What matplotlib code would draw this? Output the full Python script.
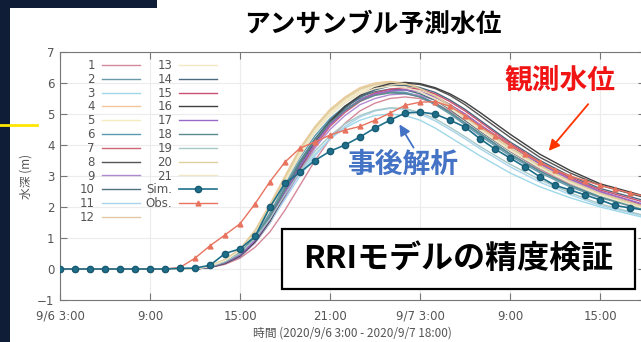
import matplotlib
matplotlib.use("Agg")
import matplotlib.pyplot as plt
from matplotlib.lines import Line2D
from matplotlib.patches import Rectangle

JP = ['Noto Sans CJK JP', 'DejaVu Sans']

# hours after 2020/9/6 3:00
hours = list(range(40))
tick_hours = [0, 6, 12, 18, 24, 30, 36]
tick_labels = ['9/6 3:00', '9:00', '15:00', '21:00', '9/7 3:00', '9:00', '15:00']

# post-event simulation (Sim.) and observed water level (Obs.), hourly
sim_level = [0, 0, 0, 0, 0, 0, 0, 0, 0.02, 0.03, 0.12, 0.5, 0.65, 1.05, 2.0, 2.77,
             3.12, 3.5, 3.8, 4.0, 4.26, 4.55, 4.8, 5.03, 5.06, 5.0, 4.8, 4.58, 4.2, 3.87,
             3.58, 3.29, 2.97, 2.7, 2.55, 2.39, 2.23, 2.05, 1.97, 1.9]
obs_level = [0, 0, 0, 0, 0, 0, 0, 0, 0.05, 0.35, 0.75, 1.1, 1.46, 2.1, 2.82, 3.45,
             3.9, 4.1, 4.32, 4.48, 4.6, 4.8, 5.03, 5.28, 5.38, 5.4, 5.25, 4.95, 4.6, 4.3,
             4.0, 3.7, 3.45, 3.2, 3.0, 2.85, 2.7, 2.58, 2.45, 2.35]

# ensemble members 1..21
ens_hours = [0, 9, 10, 11, 12, 13, 14, 15, 16, 17, 18, 19, 20, 21, 22, 23, 24, 25, 26, 27,
             28, 30, 32, 34, 36, 39]
ens_levels = [
    [0, 0, 0.05, 0.15, 0.35, 0.7, 1.2, 1.9, 2.7, 3.5, 4.2, 4.7, 5.1, 5.35, 5.5, 5.55, 5.5, 5.35, 5.1, 4.8, 4.45, 3.8, 3.2, 2.75, 2.4, 1.95],
    [0, 0, 0.08, 0.25, 0.55, 1.05, 1.8, 2.7, 3.5, 4.2, 4.75, 5.15, 5.45, 5.62, 5.7, 5.68, 5.55, 5.3, 5.0, 4.65, 4.3, 3.65, 3.1, 2.65, 2.3, 1.9],
    [0, 0, 0.08, 0.25, 0.5, 0.95, 1.6, 2.35, 3.1, 3.7, 4.2, 4.55, 4.8, 4.95, 5.0, 4.95, 4.8, 4.55, 4.25, 3.95, 3.65, 3.1, 2.65, 2.3, 2.0, 1.65],
    [0, 0, 0.1, 0.3, 0.65, 1.25, 2.1, 3.0, 3.9, 4.6, 5.15, 5.55, 5.85, 6.0, 6.05, 6.0, 5.85, 5.6, 5.3, 4.95, 4.6, 3.95, 3.35, 2.85, 2.45, 2.0],
    [0, 0, 0.1, 0.3, 0.6, 1.2, 2.0, 2.9, 3.75, 4.5, 5.05, 5.45, 5.75, 5.92, 5.98, 5.92, 5.75, 5.5, 5.2, 4.85, 4.5, 3.85, 3.3, 2.8, 2.4, 1.95],
    [0, 0, 0.08, 0.25, 0.55, 1.1, 1.85, 2.75, 3.6, 4.3, 4.85, 5.25, 5.5, 5.65, 5.72, 5.7, 5.58, 5.35, 5.05, 4.7, 4.35, 3.7, 3.15, 2.7, 2.35, 1.95],
    [0, 0, 0.06, 0.2, 0.45, 0.9, 1.55, 2.35, 3.2, 3.95, 4.6, 5.05, 5.4, 5.62, 5.75, 5.78, 5.72, 5.55, 5.3, 5.0, 4.65, 4.0, 3.4, 2.9, 2.5, 2.05],
    [0, 0, 0.05, 0.18, 0.4, 0.85, 1.5, 2.35, 3.25, 4.05, 4.7, 5.2, 5.55, 5.8, 5.95, 6.0, 5.95, 5.82, 5.6, 5.3, 4.95, 4.25, 3.6, 3.1, 2.7, 2.3],
    [0, 0, 0.05, 0.18, 0.4, 0.85, 1.5, 2.3, 3.15, 3.9, 4.5, 4.95, 5.3, 5.5, 5.62, 5.65, 5.6, 5.45, 5.2, 4.9, 4.55, 3.9, 3.3, 2.85, 2.45, 2.0],
    [0, 0, 0.07, 0.22, 0.5, 1.0, 1.7, 2.6, 3.45, 4.2, 4.8, 5.25, 5.55, 5.72, 5.8, 5.78, 5.65, 5.45, 5.15, 4.8, 4.45, 3.8, 3.25, 2.8, 2.4, 2.0],
    [0, 0, 0.07, 0.2, 0.45, 0.9, 1.5, 2.25, 3.0, 3.65, 4.2, 4.6, 4.9, 5.1, 5.18, 5.15, 5.0, 4.78, 4.5, 4.2, 3.88, 3.3, 2.8, 2.4, 2.05, 1.7],
    [0, 0, 0.1, 0.3, 0.62, 1.2, 2.0, 2.95, 3.85, 4.55, 5.1, 5.5, 5.8, 5.95, 6.0, 5.95, 5.8, 5.55, 5.25, 4.9, 4.55, 3.9, 3.3, 2.82, 2.42, 1.98],
    [0, 0, 0.1, 0.28, 0.6, 1.15, 1.95, 2.85, 3.7, 4.45, 5.0, 5.4, 5.7, 5.88, 5.95, 5.9, 5.75, 5.5, 5.2, 4.85, 4.5, 3.85, 3.28, 2.8, 2.4, 1.95],
    [0, 0, 0.06, 0.2, 0.45, 0.95, 1.65, 2.5, 3.4, 4.15, 4.75, 5.2, 5.55, 5.78, 5.9, 5.92, 5.85, 5.7, 5.45, 5.15, 4.8, 4.1, 3.5, 3.0, 2.6, 2.2],
    [0, 0, 0.06, 0.2, 0.45, 0.95, 1.6, 2.45, 3.3, 4.05, 4.65, 5.1, 5.45, 5.68, 5.8, 5.85, 5.8, 5.65, 5.4, 5.1, 4.75, 4.05, 3.45, 2.95, 2.55, 2.15],
    [0, 0, 0.05, 0.18, 0.42, 0.88, 1.55, 2.4, 3.3, 4.1, 4.75, 5.25, 5.6, 5.85, 5.98, 6.02, 5.98, 5.85, 5.65, 5.38, 5.05, 4.35, 3.7, 3.18, 2.75, 2.35],
    [0, 0, 0.06, 0.2, 0.45, 0.92, 1.6, 2.45, 3.3, 4.05, 4.65, 5.1, 5.45, 5.65, 5.75, 5.78, 5.72, 5.55, 5.3, 5.0, 4.65, 3.98, 3.38, 2.9, 2.5, 2.08],
    [0, 0, 0.07, 0.22, 0.5, 1.0, 1.72, 2.6, 3.45, 4.15, 4.72, 5.12, 5.42, 5.6, 5.68, 5.66, 5.55, 5.35, 5.05, 4.72, 4.38, 3.72, 3.16, 2.7, 2.32, 1.92],
    [0, 0, 0.08, 0.24, 0.5, 0.98, 1.62, 2.4, 3.15, 3.8, 4.3, 4.68, 4.95, 5.12, 5.2, 5.18, 5.05, 4.85, 4.57, 4.27, 3.95, 3.38, 2.88, 2.46, 2.1, 1.72],
    [0, 0, 0.1, 0.3, 0.63, 1.22, 2.05, 2.95, 3.85, 4.58, 5.12, 5.52, 5.82, 5.98, 6.03, 5.98, 5.82, 5.58, 5.28, 4.93, 4.58, 3.92, 3.33, 2.84, 2.44, 2.0],
    [0, 0, 0.09, 0.27, 0.58, 1.12, 1.9, 2.8, 3.65, 4.4, 4.95, 5.35, 5.65, 5.82, 5.9, 5.86, 5.72, 5.48, 5.18, 4.84, 4.48, 3.82, 3.26, 2.78, 2.38, 1.94],
]
ens_colors = ['#d4889a', '#6a9aaa', '#9fd8e8', '#f2c89a', '#f3eabd', '#5a9ab0', '#cc6677',
              '#555555', '#b08ad0', '#507080', '#a8d4ec', '#e4c8a4', '#f2e8c4', '#4a6a80',
              '#c85070', '#404040', '#9a6ac8', '#5a8a90', '#a8c8c8', '#e0d0a0', '#f0e6c8']
sim_color = '#1f6f8b'
obs_color = '#e8735f'

fig = plt.figure(figsize=(6.41, 3.42), dpi=100)
fig.patch.set_facecolor('white')

# slide decoration: navy strip + top bar, yellow marker line
fig.add_artist(Rectangle((0, 0), 10 / 641, 1, transform=fig.transFigure,
                         facecolor='#0f1d36', edgecolor='none', zorder=0))
fig.add_artist(Rectangle((0, 1 - 8 / 342), 157 / 641, 8 / 342, transform=fig.transFigure,
                         facecolor='#0f1d36', edgecolor='none', zorder=0))
fig.add_artist(Line2D([0, 37 / 641], [1 - 125 / 342] * 2, transform=fig.transFigure,
                      color='#ffe600', lw=2, zorder=5))

ax = fig.add_axes([60 / 641, 42 / 342, 585 / 641, 248 / 342])

for i, lev in enumerate(ens_levels):
    ax.plot(ens_hours, lev, color=ens_colors[i], lw=1.0, label=str(i + 1), zorder=2)
ax.plot(hours, obs_level, color=obs_color, lw=1.0, marker='^', ms=3.5,
        label='Obs.', zorder=3)
ax.plot(hours, sim_level, color=sim_color, lw=1.2, marker='o', ms=4.5,
        markeredgecolor='#175a72', label='Sim.', zorder=4)

ax.set_xlim(0, 39)
ax.set_ylim(-1, 7)
ax.set_xticks(tick_hours)
ax.set_xticklabels(tick_labels)
ax.set_yticks(range(-1, 8))
ax.tick_params(direction='in', length=5, top=True, right=True, colors='#777777',
               labelcolor='#555555', labelsize=8.5, pad=4)
ax.tick_params(axis='x', pad=7)
ax.grid(True, color='#ececec', lw=0.8)
for s in ax.spines.values():
    s.set_color('#777777')

ax.set_ylabel('水深 (m)', family=JP, fontsize=8.5, color='#555555', labelpad=3)
ax.set_xlabel('時間 (2020/9/6 3:00 - 2020/9/7 18:00)', family=JP, fontsize=8.5,
              color='#555555', labelpad=3)

# legend: members 1-21, then Sim., Obs.
handles, labels = ax.get_legend_handles_labels()
order = list(range(21)) + [22, 21]
leg = ax.legend([handles[k] for k in order], [labels[k] for k in order], ncol=2,
                loc='upper left', bbox_to_anchor=(20 / 585, 1 - 7 / 248), frameon=False,
                markerfirst=False, fontsize=8.5, handlelength=3.2, handletextpad=0.6,
                columnspacing=0.5, labelspacing=0.07, borderpad=0, borderaxespad=0)
for t in leg.get_texts():
    t.set_color('#555555')

# title and annotations
fig.text(373 / 641, 1 - 24 / 342, 'アンサンブル予測水位', family=JP, fontsize=18.5,
         fontweight='bold', ha='center', va='center')
fig.text(560 / 641, 1 - 80 / 342, '観測水位', family=JP, fontsize=20,
         fontweight='bold', color='#f01414', ha='center', va='center')
fig.text(403 / 641, 1 - 165 / 342, '事後解析', family=JP, fontsize=20,
         fontweight='bold', color='#4472c4', ha='center', va='center')
ax.annotate('', xy=(547 / 641, 1 - 153 / 342), xytext=(590 / 641, 1 - 102 / 342),
            xycoords='figure fraction', textcoords='figure fraction',
            arrowprops=dict(arrowstyle='-|>', color='#ff3300', lw=1.3,
                            mutation_scale=16), zorder=6)
ax.annotate('', xy=(398 / 641, 1 - 122 / 342), xytext=(415 / 641, 1 - 150 / 342),
            xycoords='figure fraction', textcoords='figure fraction',
            arrowprops=dict(arrowstyle='-|>', color='#4472c4', lw=1.3,
                            mutation_scale=16), zorder=6)

# boxed caption
fig.add_artist(Rectangle((282 / 641, 1 - 289 / 342), 353 / 641, 60 / 342,
                         transform=fig.transFigure, facecolor='white',
                         edgecolor='black', lw=1.6, zorder=7))
fig.text(458 / 641, 1 - 259 / 342, 'RRIモデルの精度検証', family=JP, fontsize=23,
         fontweight='bold', ha='center', va='center', zorder=8)

fig.savefig('out.png', dpi=100)
